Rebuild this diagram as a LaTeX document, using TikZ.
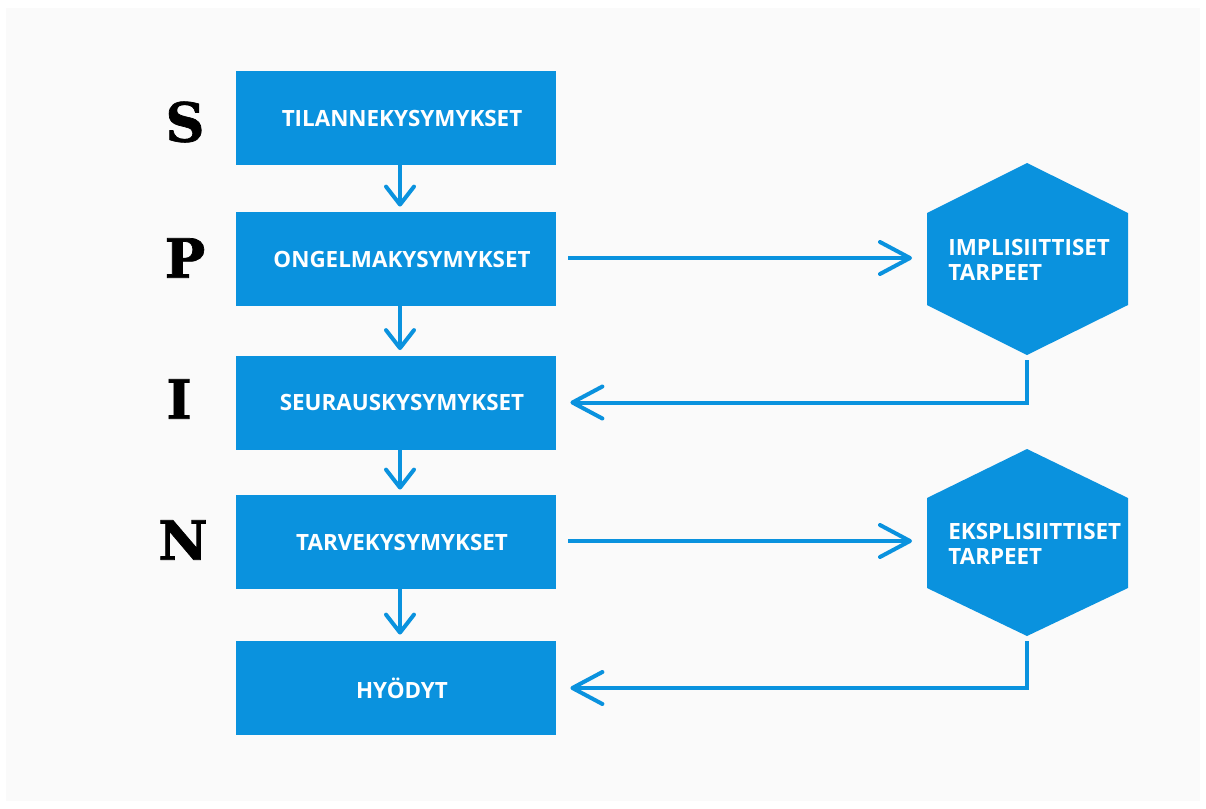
\documentclass[tikz,border=0pt]{standalone}
\usepackage{fontspec}
\setmainfont{Open Sans}
\newfontfamily\letterfont[BoldFeatures={FakeBold=1.3}]{DejaVu Serif}
\usetikzlibrary{arrows.meta,calc}
\definecolor{spinblue}{RGB}{10,146,222}
\definecolor{bgpaper}{RGB}{250,250,250}
\tikzset{
  qbox/.style={fill=spinblue, minimum width=160pt, minimum height=47pt, inner sep=0pt,
    text=white, font=\bfseries\fontsize{11.2}{12.5}\selectfont},
  hextext/.style={text=white, align=left, inner sep=0pt, font=\bfseries\fontsize{11.2}{12.5}\selectfont},
  spinletter/.style={font=\letterfont\bfseries\fontsize{27}{30}\selectfont, inner sep=0pt},
  downarrow/.style={draw=spinblue, line width=2pt, line cap=round, -{Straight Barb[length=9pt,width=14pt,line width=2pt,round]}},
  sidearrow/.style={draw=spinblue, line width=2pt, -{Straight Barb[length=15pt,width=16pt,line width=2pt,round]}},
  hexfill/.style={fill=spinblue}
}
\begin{document}
\begin{tikzpicture}[x=0.5pt,y=-0.5pt]
\useasboundingbox (0,0) rectangle (1206,809);
\fill[white] (0,0) rectangle (1206,809);
\fill[bgpaper] (6,8) rectangle (1200,801);
% boxes
\node[qbox] (b1) at (396,118) {\hspace*{6pt}TILANNEKYSYMYKSET};
\node[qbox] (b2) at (396,259) {\hspace*{6pt}ONGELMAKYSYMYKSET};
\node[qbox] (b3) at (396,402.5) {\hspace*{6pt}SEURAUSKYSYMYKSET};
\node[qbox] (b4) at (396,542) {\hspace*{6pt}TARVEKYSYMYKSET};
\node[qbox] (b5) at (396,688) {\hspace*{6pt}HYÖDYT};
% letters
\node[spinletter] (ls) at (185,122) {S};
\node[spinletter] (lp) at (185,258) {P};
\node[spinletter] (li) at (179,399) {I};
\node[spinletter] (ln) at (183,540) {N};
% hexagons
\fill[hexfill] (1027,163) -- (1128,213) -- (1128,305) -- (1027,355) -- (927,305) -- (927,213) -- cycle;
\fill[hexfill] (1027,449) -- (1128,498) -- (1128,588) -- (1027,636) -- (927,588) -- (927,498) -- cycle;
\node[hextext, anchor=west] (h1) at (948,260) {IMPLISIITTISET\\TARPEET};
\node[hextext, anchor=west] (h2) at (948,544) {EKSPLISIITTISET\\TARPEET};
\coordinate (h1w) at (912,258);
\coordinate (h1s) at (1027,360);
\coordinate (h2w) at (912,541);
\coordinate (h2s) at (1027,641);
% down arrows
\draw[downarrow, shorten >=2.5pt] ([xshift=2pt]b1.south) -- ([xshift=2pt]b2.north);
\draw[downarrow, shorten >=2.5pt] ([xshift=2pt]b2.south) -- ([xshift=2pt]b3.north);
\draw[downarrow, shorten >=2.5pt] ([xshift=2pt]b3.south) -- ([xshift=2pt]b4.north);
\draw[downarrow, shorten >=3pt] ([xshift=2pt]b4.south) -- ([xshift=2pt]b5.north);
% side arrows
\draw[sidearrow] ([xshift=6pt]b2.east |- h1w) -- (h1w);
\draw[sidearrow] (h1s) |- ([xshift=7pt]b3.east);
\draw[sidearrow] ([xshift=6pt]b4.east |- h2w) -- (h2w);
\draw[sidearrow] (h2s) |- ([xshift=7pt]b5.east);
\end{tikzpicture}
\end{document}
